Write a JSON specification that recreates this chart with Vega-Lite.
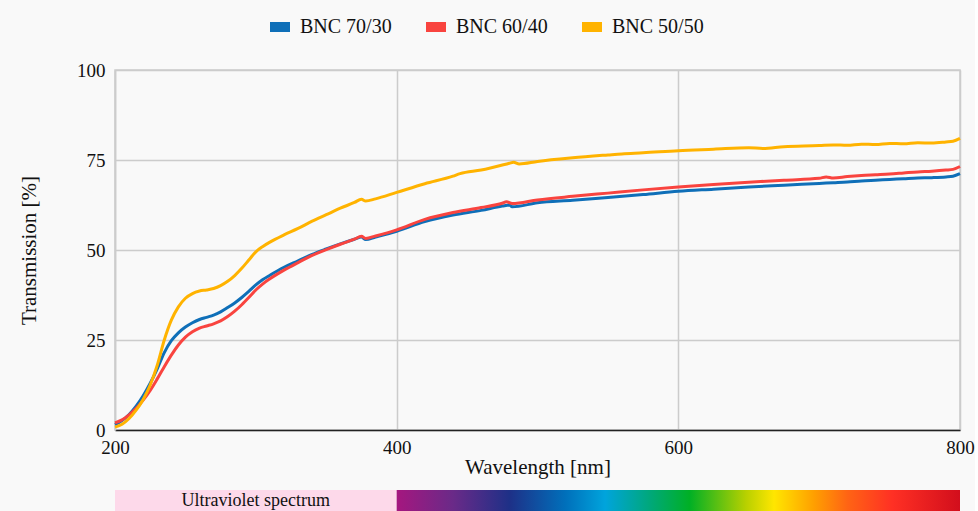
{
  "$schema": "https://vega.github.io/schema/vega-lite/v6.json",
  "background": "#f9f9f9",
  "padding": {"left": 17, "top": 12, "right": 0, "bottom": 2},
  "spacing": 12,
  "resolve": {"scale": {"x": "independent"}},
  "config": {
    "font": "Liberation Serif",
    "view": {"stroke": "#cccccc", "strokeWidth": 1.5},
    "axis": {"labelFont": "Liberation Serif", "titleFont": "Liberation Serif", "labelColor": "#111", "titleColor": "#111", "titleFontWeight": "normal", "gridColor": "#cccccc", "gridWidth": 1.5, "ticks": false, "labelFlush": false},
    "legend": {"labelFont": "Liberation Serif", "labelColor": "#111"}
  },
  "datasets": {
    "curves": [
      {"s": "BNC 70/30", "wl": 200, "t": 1.5}, {"s": "BNC 70/30", "wl": 205, "t": 2.6}, {"s": "BNC 70/30", "wl": 210, "t": 4.3}, {"s": "BNC 70/30", "wl": 215, "t": 6.6}, {"s": "BNC 70/30", "wl": 220, "t": 9.5}, {"s": "BNC 70/30", "wl": 225, "t": 13}, {"s": "BNC 70/30", "wl": 230, "t": 17}, {"s": "BNC 70/30", "wl": 235, "t": 21.5}, {"s": "BNC 70/30", "wl": 240, "t": 24.8}, {"s": "BNC 70/30", "wl": 245, "t": 27}, {"s": "BNC 70/30", "wl": 250, "t": 28.6}, {"s": "BNC 70/30", "wl": 255, "t": 29.8}, {"s": "BNC 70/30", "wl": 260, "t": 30.7}, {"s": "BNC 70/30", "wl": 265, "t": 31.3}, {"s": "BNC 70/30", "wl": 270, "t": 31.9}, {"s": "BNC 70/30", "wl": 275, "t": 32.8}, {"s": "BNC 70/30", "wl": 280, "t": 34}, {"s": "BNC 70/30", "wl": 285, "t": 35.3}, {"s": "BNC 70/30", "wl": 290, "t": 36.8}, {"s": "BNC 70/30", "wl": 295, "t": 38.5}, {"s": "BNC 70/30", "wl": 300, "t": 40.3}, {"s": "BNC 70/30", "wl": 305, "t": 41.8}, {"s": "BNC 70/30", "wl": 310, "t": 43}, {"s": "BNC 70/30", "wl": 320, "t": 45.2}, {"s": "BNC 70/30", "wl": 330, "t": 47}, {"s": "BNC 70/30", "wl": 340, "t": 48.8}, {"s": "BNC 70/30", "wl": 350, "t": 50.3}, {"s": "BNC 70/30", "wl": 360, "t": 51.7}, {"s": "BNC 70/30", "wl": 370, "t": 53}, {"s": "BNC 70/30", "wl": 375, "t": 53.6}, {"s": "BNC 70/30", "wl": 378, "t": 52.9}, {"s": "BNC 70/30", "wl": 385, "t": 53.6}, {"s": "BNC 70/30", "wl": 400, "t": 55.2}, {"s": "BNC 70/30", "wl": 420, "t": 57.9}, {"s": "BNC 70/30", "wl": 440, "t": 59.7}, {"s": "BNC 70/30", "wl": 460, "t": 61}, {"s": "BNC 70/30", "wl": 475, "t": 62.2}, {"s": "BNC 70/30", "wl": 480, "t": 62.5}, {"s": "BNC 70/30", "wl": 482, "t": 62}, {"s": "BNC 70/30", "wl": 500, "t": 63.1}, {"s": "BNC 70/30", "wl": 525, "t": 63.8}, {"s": "BNC 70/30", "wl": 550, "t": 64.6}, {"s": "BNC 70/30", "wl": 575, "t": 65.4}, {"s": "BNC 70/30", "wl": 600, "t": 66.3}, {"s": "BNC 70/30", "wl": 625, "t": 66.9}, {"s": "BNC 70/30", "wl": 650, "t": 67.5}, {"s": "BNC 70/30", "wl": 675, "t": 68}, {"s": "BNC 70/30", "wl": 700, "t": 68.5}, {"s": "BNC 70/30", "wl": 710, "t": 68.7}, {"s": "BNC 70/30", "wl": 720, "t": 68.9}, {"s": "BNC 70/30", "wl": 730, "t": 69.2}, {"s": "BNC 70/30", "wl": 740, "t": 69.4}, {"s": "BNC 70/30", "wl": 750, "t": 69.6}, {"s": "BNC 70/30", "wl": 760, "t": 69.8}, {"s": "BNC 70/30", "wl": 770, "t": 70}, {"s": "BNC 70/30", "wl": 780, "t": 70.1}, {"s": "BNC 70/30", "wl": 790, "t": 70.3}, {"s": "BNC 70/30", "wl": 795, "t": 70.5}, {"s": "BNC 70/30", "wl": 800, "t": 71.2},
      {"s": "BNC 60/40", "wl": 200, "t": 2}, {"s": "BNC 60/40", "wl": 205, "t": 2.8}, {"s": "BNC 60/40", "wl": 210, "t": 4.2}, {"s": "BNC 60/40", "wl": 215, "t": 6}, {"s": "BNC 60/40", "wl": 220, "t": 8.3}, {"s": "BNC 60/40", "wl": 225, "t": 11}, {"s": "BNC 60/40", "wl": 230, "t": 14.2}, {"s": "BNC 60/40", "wl": 235, "t": 17.6}, {"s": "BNC 60/40", "wl": 240, "t": 20.8}, {"s": "BNC 60/40", "wl": 245, "t": 23.6}, {"s": "BNC 60/40", "wl": 250, "t": 25.8}, {"s": "BNC 60/40", "wl": 255, "t": 27.3}, {"s": "BNC 60/40", "wl": 260, "t": 28.3}, {"s": "BNC 60/40", "wl": 265, "t": 28.9}, {"s": "BNC 60/40", "wl": 270, "t": 29.5}, {"s": "BNC 60/40", "wl": 275, "t": 30.3}, {"s": "BNC 60/40", "wl": 280, "t": 31.5}, {"s": "BNC 60/40", "wl": 285, "t": 33}, {"s": "BNC 60/40", "wl": 290, "t": 34.8}, {"s": "BNC 60/40", "wl": 295, "t": 36.8}, {"s": "BNC 60/40", "wl": 300, "t": 38.9}, {"s": "BNC 60/40", "wl": 305, "t": 40.6}, {"s": "BNC 60/40", "wl": 310, "t": 42}, {"s": "BNC 60/40", "wl": 320, "t": 44.4}, {"s": "BNC 60/40", "wl": 330, "t": 46.5}, {"s": "BNC 60/40", "wl": 340, "t": 48.5}, {"s": "BNC 60/40", "wl": 350, "t": 50.1}, {"s": "BNC 60/40", "wl": 360, "t": 51.6}, {"s": "BNC 60/40", "wl": 370, "t": 53}, {"s": "BNC 60/40", "wl": 375, "t": 53.8}, {"s": "BNC 60/40", "wl": 378, "t": 53.2}, {"s": "BNC 60/40", "wl": 385, "t": 53.9}, {"s": "BNC 60/40", "wl": 400, "t": 55.6}, {"s": "BNC 60/40", "wl": 420, "t": 58.5}, {"s": "BNC 60/40", "wl": 440, "t": 60.4}, {"s": "BNC 60/40", "wl": 460, "t": 61.8}, {"s": "BNC 60/40", "wl": 475, "t": 63}, {"s": "BNC 60/40", "wl": 478, "t": 63.4}, {"s": "BNC 60/40", "wl": 482, "t": 62.9}, {"s": "BNC 60/40", "wl": 500, "t": 63.9}, {"s": "BNC 60/40", "wl": 525, "t": 64.9}, {"s": "BNC 60/40", "wl": 550, "t": 65.8}, {"s": "BNC 60/40", "wl": 575, "t": 66.7}, {"s": "BNC 60/40", "wl": 600, "t": 67.5}, {"s": "BNC 60/40", "wl": 625, "t": 68.2}, {"s": "BNC 60/40", "wl": 650, "t": 68.8}, {"s": "BNC 60/40", "wl": 675, "t": 69.4}, {"s": "BNC 60/40", "wl": 700, "t": 69.9}, {"s": "BNC 60/40", "wl": 705, "t": 70.3}, {"s": "BNC 60/40", "wl": 710, "t": 70}, {"s": "BNC 60/40", "wl": 720, "t": 70.4}, {"s": "BNC 60/40", "wl": 730, "t": 70.7}, {"s": "BNC 60/40", "wl": 740, "t": 70.9}, {"s": "BNC 60/40", "wl": 750, "t": 71.1}, {"s": "BNC 60/40", "wl": 760, "t": 71.4}, {"s": "BNC 60/40", "wl": 770, "t": 71.7}, {"s": "BNC 60/40", "wl": 780, "t": 71.9}, {"s": "BNC 60/40", "wl": 790, "t": 72.2}, {"s": "BNC 60/40", "wl": 795, "t": 72.4}, {"s": "BNC 60/40", "wl": 800, "t": 73.2},
      {"s": "BNC 50/50", "wl": 200, "t": 0.8}, {"s": "BNC 50/50", "wl": 205, "t": 1.6}, {"s": "BNC 50/50", "wl": 210, "t": 3.2}, {"s": "BNC 50/50", "wl": 215, "t": 5.5}, {"s": "BNC 50/50", "wl": 220, "t": 8.5}, {"s": "BNC 50/50", "wl": 225, "t": 12.5}, {"s": "BNC 50/50", "wl": 230, "t": 18}, {"s": "BNC 50/50", "wl": 235, "t": 25}, {"s": "BNC 50/50", "wl": 240, "t": 30.5}, {"s": "BNC 50/50", "wl": 245, "t": 34.2}, {"s": "BNC 50/50", "wl": 250, "t": 36.6}, {"s": "BNC 50/50", "wl": 255, "t": 37.9}, {"s": "BNC 50/50", "wl": 260, "t": 38.6}, {"s": "BNC 50/50", "wl": 265, "t": 38.9}, {"s": "BNC 50/50", "wl": 270, "t": 39.3}, {"s": "BNC 50/50", "wl": 275, "t": 40.1}, {"s": "BNC 50/50", "wl": 280, "t": 41.3}, {"s": "BNC 50/50", "wl": 285, "t": 42.9}, {"s": "BNC 50/50", "wl": 290, "t": 44.9}, {"s": "BNC 50/50", "wl": 295, "t": 47.2}, {"s": "BNC 50/50", "wl": 300, "t": 49.5}, {"s": "BNC 50/50", "wl": 305, "t": 51}, {"s": "BNC 50/50", "wl": 310, "t": 52.2}, {"s": "BNC 50/50", "wl": 320, "t": 54.2}, {"s": "BNC 50/50", "wl": 330, "t": 56}, {"s": "BNC 50/50", "wl": 340, "t": 58}, {"s": "BNC 50/50", "wl": 350, "t": 59.8}, {"s": "BNC 50/50", "wl": 360, "t": 61.6}, {"s": "BNC 50/50", "wl": 370, "t": 63.2}, {"s": "BNC 50/50", "wl": 375, "t": 64.1}, {"s": "BNC 50/50", "wl": 378, "t": 63.6}, {"s": "BNC 50/50", "wl": 385, "t": 64.2}, {"s": "BNC 50/50", "wl": 400, "t": 66}, {"s": "BNC 50/50", "wl": 420, "t": 68.4}, {"s": "BNC 50/50", "wl": 440, "t": 70.5}, {"s": "BNC 50/50", "wl": 445, "t": 71.2}, {"s": "BNC 50/50", "wl": 460, "t": 72.2}, {"s": "BNC 50/50", "wl": 480, "t": 74.1}, {"s": "BNC 50/50", "wl": 483, "t": 74.4}, {"s": "BNC 50/50", "wl": 487, "t": 73.9}, {"s": "BNC 50/50", "wl": 500, "t": 74.6}, {"s": "BNC 50/50", "wl": 525, "t": 75.6}, {"s": "BNC 50/50", "wl": 550, "t": 76.4}, {"s": "BNC 50/50", "wl": 560, "t": 76.7}, {"s": "BNC 50/50", "wl": 575, "t": 77}, {"s": "BNC 50/50", "wl": 600, "t": 77.6}, {"s": "BNC 50/50", "wl": 625, "t": 78}, {"s": "BNC 50/50", "wl": 650, "t": 78.4}, {"s": "BNC 50/50", "wl": 660, "t": 78.2}, {"s": "BNC 50/50", "wl": 675, "t": 78.7}, {"s": "BNC 50/50", "wl": 700, "t": 79}, {"s": "BNC 50/50", "wl": 710, "t": 79.2}, {"s": "BNC 50/50", "wl": 720, "t": 79.1}, {"s": "BNC 50/50", "wl": 730, "t": 79.4}, {"s": "BNC 50/50", "wl": 740, "t": 79.3}, {"s": "BNC 50/50", "wl": 750, "t": 79.6}, {"s": "BNC 50/50", "wl": 760, "t": 79.5}, {"s": "BNC 50/50", "wl": 770, "t": 79.8}, {"s": "BNC 50/50", "wl": 780, "t": 79.7}, {"s": "BNC 50/50", "wl": 790, "t": 80}, {"s": "BNC 50/50", "wl": 795, "t": 80.2}, {"s": "BNC 50/50", "wl": 800, "t": 81}
    ]
  },
  "vconcat": [
    {
      "width": 845,
      "height": 360,
      "data": {"name": "curves"},
      "mark": {"type": "line", "interpolate": "monotone", "strokeWidth": 3},
      "encoding": {
        "x": {"field": "wl", "type": "quantitative", "scale": {"domain": [200, 800], "nice": false},
              "axis": {"values": [200, 400, 600, 800], "title": "Wavelength [nm]", "titleFontSize": 21, "labelFontSize": 19, "labelPadding": 8, "titlePadding": -1, "domainColor": "#222222", "domainWidth": 1.5, "grid": true}},
        "y": {"field": "t", "type": "quantitative", "scale": {"domain": [0, 100], "nice": false},
              "axis": {"values": [0, 25, 50, 75, 100], "title": "Transmission [%]", "titleFontSize": 21, "labelFontSize": 19, "labelPadding": 10, "titlePadding": 37, "domainColor": "#cccccc", "domainWidth": 1.5, "grid": true}},
        "color": {"field": "s", "type": "nominal", "sort": ["BNC 70/30", "BNC 60/40", "BNC 50/50"],
                  "scale": {"domain": ["BNC 70/30", "BNC 60/40", "BNC 50/50"], "range": ["#0f6fb8", "#f9443f", "#ffb300"]},
                  "legend": {"title": null, "orient": "none", "legendX": 150, "legendY": -58, "direction": "horizontal",
                             "symbolType": "M-1,0H1", "symbolSize": 400, "symbolStrokeWidth": 10, "labelFontSize": 20, "labelOffset": 5, "columnPadding": 14}}
      }
    },
    {
      "width": 845,
      "height": 21,
      "view": {"stroke": null},
      "layer": [
        {
          "data": {"values": [{"start": 200, "end": 400}]},
          "mark": {"type": "rect", "fill": "#fdd9ea"},
          "encoding": {
            "x": {"field": "start", "type": "quantitative", "scale": {"domain": [200, 800], "nice": false}, "axis": null},
            "x2": {"field": "end"}
          }
        },
        {
          "data": {"values": [{"start": 400, "end": 800}]},
          "mark": {"type": "rect", "fill": {"gradient": "linear", "x1": 0, "y1": 0, "x2": 1, "y2": 0, "stops": [
            {"offset": 0, "color": "#a5177f"},
            {"offset": 0.1, "color": "#6a2a88"},
            {"offset": 0.2, "color": "#1e3087"},
            {"offset": 0.3, "color": "#0070bb"},
            {"offset": 0.37, "color": "#00a4dc"},
            {"offset": 0.45, "color": "#00a87a"},
            {"offset": 0.52, "color": "#00b025"},
            {"offset": 0.62, "color": "#b8d000"},
            {"offset": 0.67, "color": "#ffe600"},
            {"offset": 0.74, "color": "#ffa000"},
            {"offset": 0.8, "color": "#ff6414"},
            {"offset": 0.88, "color": "#ff3024"},
            {"offset": 1, "color": "#d20e1c"}
          ]}},
          "encoding": {
            "x": {"field": "start", "type": "quantitative", "scale": {"domain": [200, 800], "nice": false}, "axis": null},
            "x2": {"field": "end"}
          }
        },
        {
          "data": {"values": [{"mid": 300, "label": "Ultraviolet spectrum"}]},
          "mark": {"type": "text", "fontSize": 18, "font": "Liberation Serif", "color": "#111111", "baseline": "middle"},
          "encoding": {
            "x": {"field": "mid", "type": "quantitative", "scale": {"domain": [200, 800], "nice": false}, "axis": null},
            "text": {"field": "label"}
          }
        }
      ]
    }
  ]
}
